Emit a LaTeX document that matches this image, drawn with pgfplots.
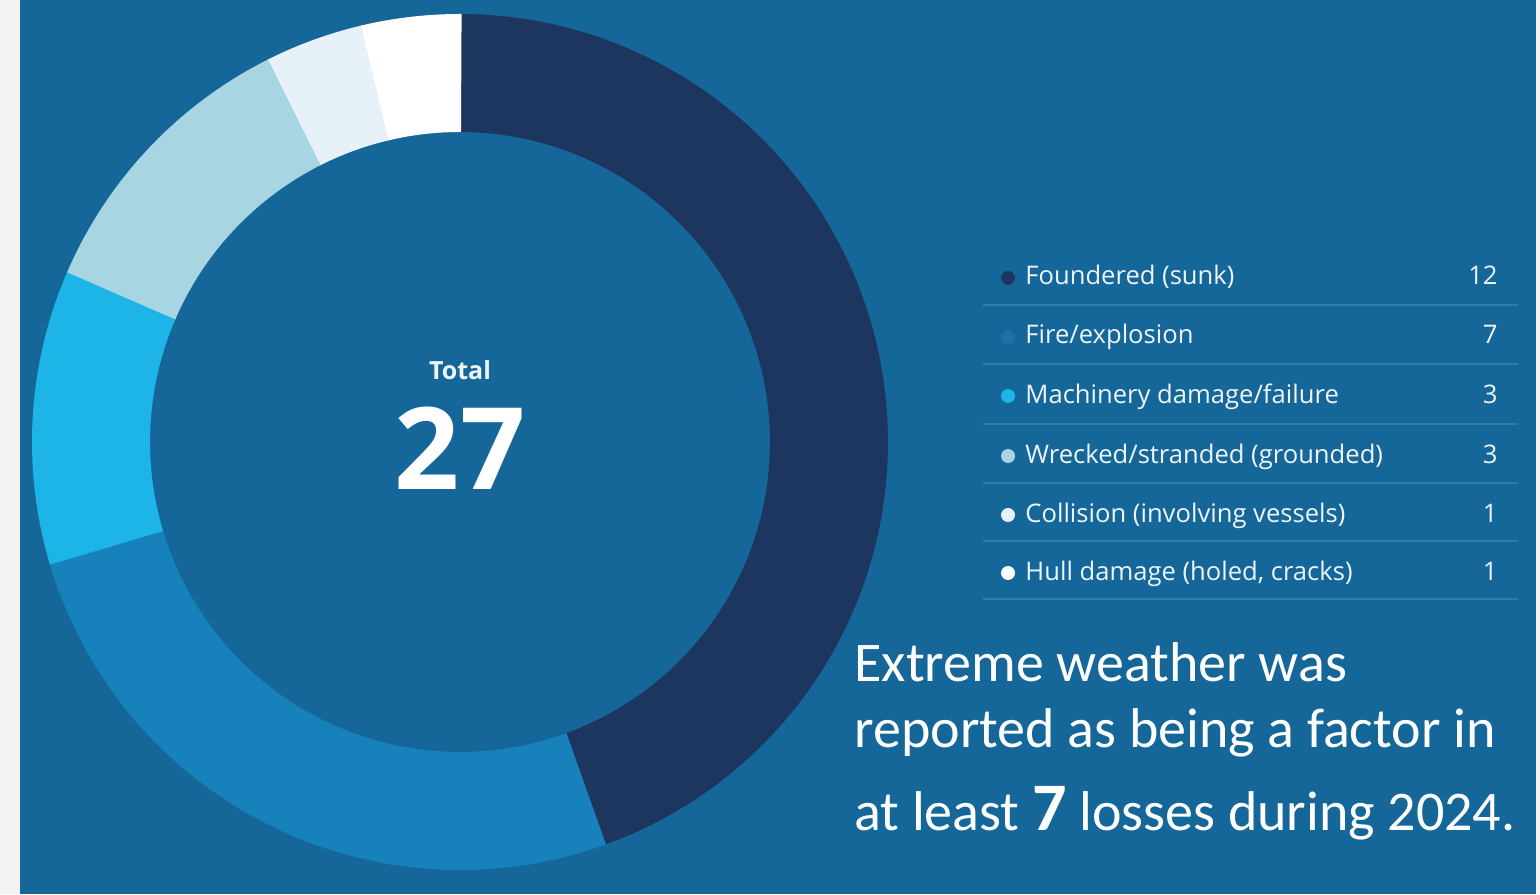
\documentclass[border=0pt]{standalone}
\usepackage{pgfplots}
\pgfplotsset{compat=1.18}
\usepackage{pgfplotstable}
\usepackage{fontspec}
\setmainfont{Open Sans}
\newfontfamily\calibri{Carlito}
\definecolor{bg}{HTML}{15679A}
\definecolor{sep}{HTML}{2B7DB2}
\definecolor{strip}{HTML}{F3F3F3}
\definecolor{txt}{HTML}{EEF4F8}
\definecolor{c0}{HTML}{1D365F}
\definecolor{c1}{HTML}{1781BB}
\definecolor{c2}{HTML}{1DB5E7}
\definecolor{c3}{HTML}{A8D5E2}
\definecolor{c4}{HTML}{E6F2F7}
\definecolor{c5}{HTML}{FFFFFF}
\definecolor{b1}{HTML}{1A72AA}

\pgfplotstableread[col sep=comma]{
label,value
Foundered (sunk),12
Fire/explosion,7
Machinery damage/failure,3
Wrecked/stranded (grounded),3
Collision (involving vessels),1
Hull damage (holed cracks),1
}\losses

\begin{document}
\begin{tikzpicture}
% cumulative angles from the table
\def\total{0}
\pgfplotsforeachungrouped \i in {0,...,5}{%
  \pgfplotstablegetelem{\i}{value}\of\losses
  \pgfmathsetmacro\total{\total+\pgfplotsretval}%
}
\def\cum{0}
\pgfplotsforeachungrouped \i in {0,...,5}{%
  \pgfplotstablegetelem{\i}{value}\of\losses
  \pgfmathsetmacro\s{90-360*\cum/\total}%
  \pgfmathsetmacro\cum{\cum+\pgfplotsretval}%
  \pgfmathsetmacro\e{90-360*\cum/\total-0.2}%
  \expandafter\xdef\csname ws\i\endcsname{\s}%
  \expandafter\xdef\csname we\i\endcsname{\e}%
}
\begin{axis}[width=770pt, height=447pt, scale only axis,
  xmin=0, xmax=1540, ymin=0, ymax=894, hide axis, clip=false]
\fill[bg] (axis cs:0,0) rectangle (axis cs:1540,894);
\fill[strip] (axis cs:0,0) rectangle (axis cs:20,894);
\fill[strip] (axis cs:1536,0) rectangle (axis cs:1540,894);
\pgfplotsinvokeforeach{0,...,5}{
  \addplot[domain=\csname we#1\endcsname:\csname ws#1\endcsname, samples=120,
    line width=59pt, line cap=butt, line join=round, color=c#1]
    ({460+369*cos(x)},{452+369*sin(x)});
}
% centre
\node[anchor=base, text=txt, font=\bfseries\fontsize{12.5}{14}\selectfont] at (axis cs:460,514) {Total};
\node[anchor=base, text=white, font=\bfseries\fontsize{57}{60}\selectfont] at (axis cs:460,404) {27};
% legend
\pgfplotsinvokeforeach{589,530,470,411,353,295}{
  \draw[sep, line width=1pt] (axis cs:983,#1) -- (axis cs:1518,#1);
}
\node[circle, fill=c0, inner sep=0pt, minimum size=7pt] at (axis cs:1008,616) {};
\node[circle, fill=b1, inner sep=0pt, minimum size=7pt] at (axis cs:1008,557) {};
\node[circle, fill=c2, inner sep=0pt, minimum size=7pt] at (axis cs:1008,498) {};
\node[circle, fill=c3, inner sep=0pt, minimum size=7pt] at (axis cs:1008,438) {};
\node[circle, fill=c4, inner sep=0pt, minimum size=7pt] at (axis cs:1008,379) {};
\node[circle, fill=c5, inner sep=0pt, minimum size=7pt] at (axis cs:1008,321) {};
\begin{scope}[every node/.style={text=txt, inner sep=0pt, font=\fontsize{12.8}{15}\selectfont}]
\node[anchor=base west] at (axis cs:1025,609) {Foundered (sunk)};
\node[anchor=base west] at (axis cs:1025,550) {Fire/explosion};
\node[anchor=base west] at (axis cs:1025,490) {Machinery damage/failure};
\node[anchor=base west] at (axis cs:1025,430) {Wrecked/stranded (grounded)};
\node[anchor=base west] at (axis cs:1025,371) {Collision (involving vessels)};
\node[anchor=base west] at (axis cs:1025,313) {Hull damage (holed, cracks)};
\node[anchor=base east] at (axis cs:1498,609) {12};
\node[anchor=base east] at (axis cs:1498,550) {7};
\node[anchor=base east] at (axis cs:1498,490) {3};
\node[anchor=base east] at (axis cs:1498,430) {3};
\node[anchor=base east] at (axis cs:1498,371) {1};
\node[anchor=base east] at (axis cs:1498,313) {1};
\end{scope}
% note
\begin{scope}[every node/.style={text=white, inner sep=0pt, anchor=base west, font=\calibri\fontsize{28}{32}\selectfont}]
\node at (axis cs:854,213) {Extreme weather was};
\node at (axis cs:854,147) {reported as being a factor in};
\node at (axis cs:854,64) {at least {\bfseries\fontsize{34}{36}\selectfont 7} losses during 2024.};
\end{scope}
\end{axis}
\end{tikzpicture}
\end{document}
